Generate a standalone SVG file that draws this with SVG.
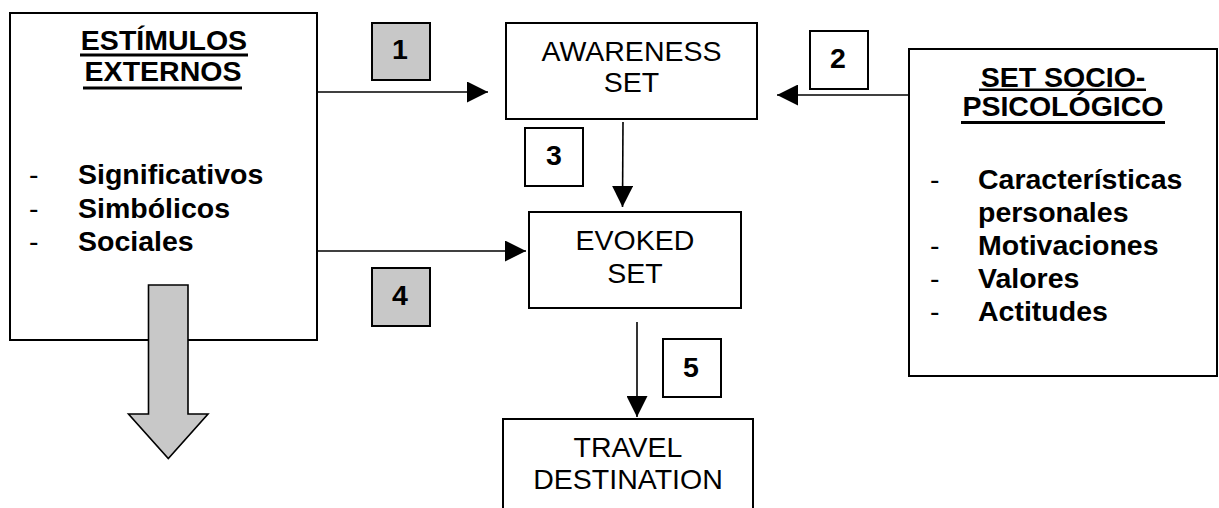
<svg xmlns="http://www.w3.org/2000/svg" width="1219" height="508" viewBox="0 0 1219 508">
<defs>
<style>
.box{fill:#fff;stroke:#000;stroke-width:2}
.gbox{fill:#c8c8c8;stroke:#000;stroke-width:2}
.wbox{fill:#fff;stroke:#000;stroke-width:2}
.t{font-family:"Liberation Sans",Arial,sans-serif;font-size:28.5px;fill:#000}
.b{font-weight:bold}
.m{text-anchor:middle}
.conn{stroke:#000;stroke-width:1.6;fill:none;marker-end:url(#ah)}
.ul{fill:#000}
</style>
<marker id="ah" markerUnits="userSpaceOnUse" markerWidth="22" markerHeight="21" refX="21" refY="10.5" orient="auto">
<path d="M0,0 L21,10.5 L0,21 z" fill="#000"/>
</marker>
</defs>
<rect width="1219" height="508" fill="#fff"/>

<g id="estimulos">
<rect class="box" x="10" y="13" width="307" height="327"/>
<text class="t b m" x="164" y="50">ESTÍMULOS</text>
<rect class="ul" x="80" y="53.5" width="168" height="3"/>
<text class="t b m" x="163" y="81">EXTERNOS</text>
<rect class="ul" x="83" y="86.5" width="159" height="3"/>
<text class="t" x="29" y="184">-</text>
<text class="t b" x="78" y="184">Significativos</text>
<text class="t" x="29" y="218">-</text>
<text class="t b" x="78" y="218">Simbólicos</text>
<text class="t" x="29" y="251">-</text>
<text class="t b" x="78" y="251">Sociales</text>
</g>

<g id="big-arrow">
<path d="M148.5,285 L188,285 L188,414 L208,414 L168.3,458.5 L128.5,414 L148.5,414 Z" fill="#c8c8c8" stroke="#000" stroke-width="1.6"/>
</g>

<g id="awareness">
<rect class="box" x="506" y="23" width="251" height="96"/>
<text class="t m" x="631.5" y="61">AWARENESS</text>
<text class="t m" x="631.5" y="92">SET</text>
</g>

<g id="evoked">
<rect class="box" x="529" y="212" width="212" height="96"/>
<text class="t m" x="635" y="250">EVOKED</text>
<text class="t m" x="635" y="283">SET</text>
</g>

<g id="travel">
<rect class="box" x="503" y="419" width="250" height="100"/>
<text class="t m" x="628" y="457">TRAVEL</text>
<text class="t m" x="628" y="489">DESTINATION</text>
</g>

<g id="sociopsico">
<rect class="box" x="909" y="49" width="308" height="327"/>
<text class="t b m" x="1063" y="87">SET SOCIO-</text>
<rect class="ul" x="979" y="88.5" width="167" height="2.5"/>
<text class="t b m" x="1063" y="116">PSICOLÓGICO</text>
<rect class="ul" x="961" y="121" width="204" height="3"/>
<text class="t" x="930" y="189">-</text>
<text class="t b" x="978" y="189">Características</text>
<text class="t b" x="978" y="222">personales</text>
<text class="t" x="930" y="255">-</text>
<text class="t b" x="978" y="255">Motivaciones</text>
<text class="t" x="930" y="288">-</text>
<text class="t b" x="978" y="288">Valores</text>
<text class="t" x="930" y="321">-</text>
<text class="t b" x="978" y="321">Actitudes</text>
</g>

<g id="label-1">
<rect class="gbox" x="372" y="23" width="58" height="57"/>
<text class="t b m" x="400" y="59">1</text>
</g>
<g id="label-2">
<rect class="wbox" x="810" y="31" width="58" height="58"/>
<text class="t b m" x="838" y="68">2</text>
</g>
<g id="label-3">
<rect class="wbox" x="525" y="128" width="58" height="58"/>
<text class="t b m" x="554" y="165">3</text>
</g>
<g id="label-4">
<rect class="gbox" x="372" y="268" width="58" height="58"/>
<text class="t b m" x="400" y="305">4</text>
</g>
<g id="label-5">
<rect class="wbox" x="663" y="339" width="58" height="58"/>
<text class="t b m" x="691" y="377">5</text>
</g>

<g id="connectors">
<line class="conn" x1="317" y1="92" x2="488" y2="92"/>
<line class="conn" x1="909" y1="95" x2="777" y2="95"/>
<line class="conn" x1="623" y1="122" x2="622.5" y2="207"/>
<line class="conn" x1="317" y1="251" x2="526" y2="251"/>
<line class="conn" x1="637" y1="322" x2="637" y2="417"/>
</g>
</svg>
